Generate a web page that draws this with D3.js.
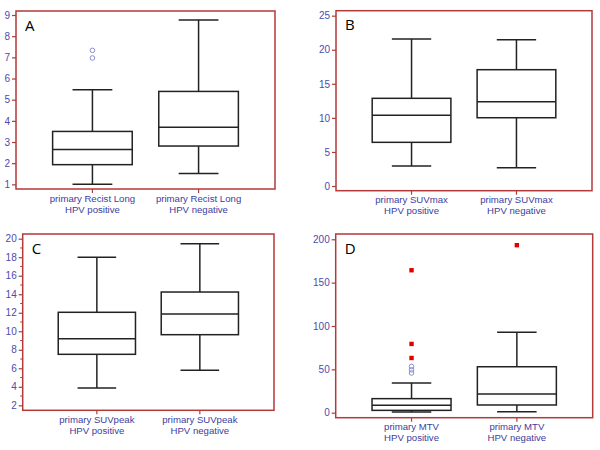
<!DOCTYPE html>
<html><head><meta charset="utf-8">
<script src="https://cdn.jsdelivr.net/npm/d3@7"></script>
<style>body{margin:0;background:#fff}svg{display:block}</style>
</head><body>
<svg id="c" width="600" height="450"></svg>
<script>
// ---- data ----
const panelLetters = ["A", "B", "C", "D"];
const measures = ["primary Recist Long", "primary SUVmax", "primary SUVpeak", "primary MTV"];
const groups = ["HPV positive", "HPV negative"];
// [lower whisker, Q1, median, Q3, upper whisker]
const recistPos = [1.0, 1.93, 2.65, 3.5, 5.47];
const recistNeg = [1.51, 2.81, 3.7, 5.39, 8.77];
const suvmaxPos = [2.93, 6.41, 10.37, 12.87, 21.58];
const suvmaxNeg = [2.68, 10.02, 12.37, 17.07, 21.48];
const suvpeakPos = [3.88, 7.51, 9.2, 12.05, 18.0];
const suvpeakNeg = [5.79, 9.63, 11.87, 14.24, 19.46];
const mtvPos = [0.8, 2.7, 8.5, 16.2, 34.3];
const mtvNeg = [1.2, 8.9, 21.5, 53.0, 92.7];
// outside values (hollow circles) and far-out values (red squares)
const recistPosOut = [7.33, 6.97];
const recistNegOut = [];
const mtvPosOut = [53.3, 49.5, 45.8];
const mtvPosFar = [164.3, 79.3, 63.1];
const mtvNegFar = [193.2];
// tick values
const ticksA = [1, 2, 3, 4, 5, 6, 7, 8, 9];
const ticksB = [0, 5, 10, 15, 20, 25];
const ticksC = [2, 4, 6, 8, 10, 12, 14, 16, 18, 20];
const minorC = [3, 5, 7, 9, 11, 13, 15, 17, 19];
const ticksD = [0, 50, 100, 150, 200];

// ---- layout ----
const panels = [
  {letter: panelLetters[0], measure: measures[0], stats: [recistPos, recistNeg], out: [recistPosOut, recistNegOut], far: [[], []],
   box: [16, 11, 275, 189], domain: [0.78, 9.19], ticks: ticksA, minor: []},
  {letter: panelLetters[1], measure: measures[1], stats: [suvmaxPos, suvmaxNeg], out: [[], []], far: [[], []],
   box: [336, 10.7, 592, 190.7], domain: [-0.69, 25.73], ticks: ticksB, minor: []},
  {letter: panelLetters[2], measure: measures[2], stats: [suvpeakPos, suvpeakNeg], out: [[], []], far: [[], []],
   box: [22.7, 234, 274, 410.3], domain: [1.46, 20.51], ticks: ticksC, minor: minorC},
  {letter: panelLetters[3], measure: measures[3], stats: [mtvPos, mtvNeg], out: [mtvPosOut, []], far: [mtvPosFar, mtvNegFar],
   box: [335.7, 234, 592.7, 417.7], domain: [-5.77, 206.1], ticks: ticksD, minor: []}
];

const frameColor = "#b23a3a";
const textColor = "#3d3d9e";
const tickColor = "#4b4bb0";
const boxColor = "#222";
const font = "'Liberation Sans', Arial, sans-serif";

const svg = d3.select("#c");

panels.forEach(p => {
  const [x0, y0, x1, y1] = p.box;
  const g = svg.append("g");
  const y = d3.scaleLinear().domain(p.domain).range([y1, y0]);
  const x = d3.scalePoint().domain(groups).range([x0, x1]).padding(0.72);
  const bw = x.step() * 0.75;
  const cw = bw / 2;

  // y axis
  const yAxis = d3.axisLeft(y).tickValues(p.ticks).tickSize(4).tickPadding(2).tickFormat(d3.format("d"));
  const ya = g.append("g").attr("transform", `translate(${x0},0)`).call(yAxis);
  ya.select(".domain").remove();
  ya.selectAll(".tick line").attr("stroke", frameColor).attr("stroke-width", 1.2);
  ya.selectAll(".tick text").attr("fill", tickColor).style("font-family", font).style("font-size", "10px");
  if (p.minor.length) {
    g.append("g").selectAll("line").data(p.minor).join("line")
      .attr("x1", x0 - 2.5).attr("x2", x0).attr("y1", d => y(d)).attr("y2", d => y(d))
      .attr("stroke", frameColor).attr("stroke-width", 1);
  }

  // x axis ticks + labels
  const xa = g.append("g").attr("transform", `translate(0,${y1})`);
  xa.selectAll("line").data(groups).join("line")
    .attr("x1", d => x(d)).attr("x2", d => x(d)).attr("y1", 0).attr("y2", 4)
    .attr("stroke", frameColor).attr("stroke-width", 1.2);
  const lbl = xa.selectAll("text").data(groups).join("text")
    .attr("x", d => x(d)).attr("text-anchor", "middle")
    .attr("fill", textColor).style("font-family", font).style("font-size", "9.6px");
  lbl.append("tspan").attr("x", d => x(d)).attr("y", 12.5).text(p.measure);
  lbl.append("tspan").attr("x", d => x(d)).attr("y", 23.5).text(d => d);

  // boxes
  groups.forEach((gr, i) => {
    const s = p.stats[i];
    const cx = x(gr);
    const bg = g.append("g").attr("stroke", boxColor).attr("stroke-width", 1.5).attr("fill", "none");
    // whiskers
    bg.append("line").attr("x1", cx).attr("x2", cx).attr("y1", y(s[3])).attr("y2", y(s[4]));
    bg.append("line").attr("x1", cx).attr("x2", cx).attr("y1", y(s[1])).attr("y2", y(s[0]));
    bg.append("line").attr("x1", cx - cw / 2).attr("x2", cx + cw / 2).attr("y1", y(s[4])).attr("y2", y(s[4]));
    bg.append("line").attr("x1", cx - cw / 2).attr("x2", cx + cw / 2).attr("y1", y(s[0])).attr("y2", y(s[0]));
    // box
    bg.append("rect").attr("x", cx - bw / 2).attr("width", bw)
      .attr("y", y(s[3])).attr("height", y(s[1]) - y(s[3])).attr("fill", "#fff");
    bg.append("line").attr("x1", cx - bw / 2).attr("x2", cx + bw / 2).attr("y1", y(s[2])).attr("y2", y(s[2]));
    // outside values
    g.selectAll(null).data(p.out[i]).join("circle")
      .attr("cx", cx).attr("cy", d => y(d)).attr("r", 2.3)
      .attr("fill", "none").attr("stroke", "#8c8cd0").attr("stroke-width", 1);
    g.selectAll(null).data(p.far[i]).join("rect")
      .attr("x", cx - 2.2).attr("y", d => y(d) - 2.2).attr("width", 4.4).attr("height", 4.4)
      .attr("fill", "#e00000");
  });

  // frame
  g.append("rect").attr("x", x0).attr("y", y0).attr("width", x1 - x0).attr("height", y1 - y0)
    .attr("fill", "none").attr("stroke", frameColor).attr("stroke-width", 1.5);

  // panel letter
  g.append("text").attr("x", x0 + 9).attr("y", y0 + 19.5).text(p.letter)
    .attr("fill", "#000").style("font-family", "'Open Sans', 'Liberation Sans', sans-serif").style("font-size", "15px");
});
</script>
</body></html>
